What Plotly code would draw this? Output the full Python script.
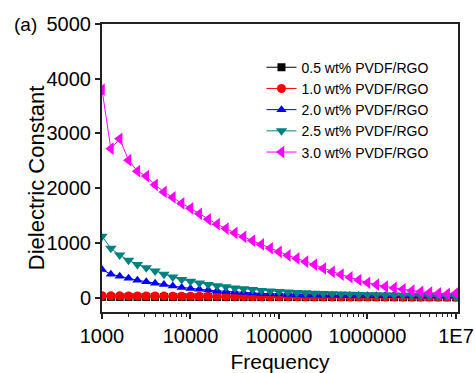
import numpy as np
import plotly.graph_objects as go

# log10 of frequency, 10 points per decade from 1e3 to 1e7
log_freq = [3.0, 3.1, 3.2, 3.3, 3.4, 3.5, 3.6, 3.7, 3.8, 3.9,
            4.0, 4.1, 4.2, 4.3, 4.4, 4.5, 4.6, 4.7, 4.8, 4.9,
            5.0, 5.1, 5.2, 5.3, 5.4, 5.5, 5.6, 5.7, 5.8, 5.9,
            6.0, 6.1, 6.2, 6.3, 6.4, 6.5, 6.6, 6.7, 6.8, 6.9, 7.0]
freq = [10 ** v for v in log_freq]

s05 = [12, 12, 11, 11, 11, 10, 10, 10, 10, 9,
       9, 9, 9, 8, 8, 8, 8, 8, 7, 7,
       7, 7, 7, 6, 6, 6, 6, 6, 5, 5,
       5, 5, 5, 5, 4, 4, 4, 4, 4, 3, 3]
s10 = [32, 31, 30, 29, 28, 27, 27, 26, 25, 24,
       24, 23, 22, 22, 21, 20, 20, 19, 19, 18,
       18, 17, 17, 16, 16, 15, 15, 14, 14, 13,
       13, 13, 12, 12, 11, 11, 11, 10, 10, 10, 9]
s20 = [510, 425, 390, 350, 315, 290, 260, 238, 210, 185,
       165, 150, 135, 122, 110, 100, 90, 82, 75, 68,
       62, 57, 52, 48, 45, 42, 40, 38, 36, 35,
       34, 33, 32, 31, 30, 29, 28, 27, 26, 25, 24]
s25 = [1120, 900, 775, 680, 605, 545, 485, 425, 375, 330,
       295, 265, 240, 215, 195, 175, 160, 145, 130, 120,
       110, 100, 92, 85, 78, 72, 67, 62, 58, 55,
       52, 50, 47, 45, 42, 40, 36, 32, 28, 22, 15]
s30 = [3800, 2720, 2900, 2510, 2310, 2220, 2060, 1930, 1830, 1720,
       1630, 1530, 1430, 1340, 1260, 1180, 1110, 1040, 970, 900,
       835, 770, 715, 655, 600, 530, 470, 420, 370, 320,
       270, 235, 200, 175, 150, 125, 105, 90, 75, 65, 80]

names = ["0.5 wt% PVDF/RGO", "1.0 wt% PVDF/RGO", "2.0 wt% PVDF/RGO",
         "2.5 wt% PVDF/RGO", "3.0 wt% PVDF/RGO"]
series = [s05, s10, s20, s25, s30]
colors = ["#000000", "#FF0000", "#0000FF", "#008080", "#FF00FF"]
symbols = ["square", "circle", "triangle-up", "triangle-down", "triangle-left"]
sizes = [8, 9, 9, 10, 11]

x_tickvals = [1e3, 1e4, 1e5, 1e6, 1e7]
x_ticktext = ["1000", "10000", "100000", "1000000", "1E7"]
y_tickvals = [0, 1000, 2000, 3000, 4000, 5000]

FONT = "Liberation Sans, Arial, sans-serif"

fig = go.Figure()
for name, ys, c, sym, sz in zip(names, series, colors, symbols, sizes):
    fig.add_trace(go.Scatter(
        x=freq, y=ys, name=name, mode="lines+markers",
        line=dict(color=c, width=1),
        marker=dict(color=c, symbol=sym, size=sz, line=dict(width=0)),
    ))

fig.update_layout(
    width=475, height=373,
    margin=dict(l=102, r=17, t=24, b=61),
    paper_bgcolor="white", plot_bgcolor="white",
    font=dict(family=FONT, color="black", size=20),
    showlegend=True,
    legend=dict(
        x=0.448, y=0.904, xanchor="left", yanchor="top",
        bgcolor="rgba(0,0,0,0)", borderwidth=0,
        font=dict(size=14, family=FONT),
        tracegroupgap=0, itemwidth=30,
    ),
    xaxis=dict(
        type="log", range=[3, 7.023], automargin=False,
        tickvals=x_tickvals, ticktext=x_ticktext,
        ticks="outside", ticklen=5, tickwidth=1.5, tickcolor="#222",
        minor=dict(ticks="outside", ticklen=3, tickwidth=1, tickcolor="#222", dtick="D1"),
        showline=True, linecolor="#222", linewidth=2, mirror=True,
        showgrid=False, zeroline=False,
        title=dict(text="Frequency", font=dict(size=21)),
        tickfont=dict(size=20),
    ),
    yaxis=dict(
        range=[-265, 5000], automargin=False,
        tickvals=y_tickvals,
        ticks="outside", ticklen=5, tickwidth=1.5, tickcolor="#222",
        showline=True, linecolor="#222", linewidth=2, mirror=True,
        showgrid=False, zeroline=False,
        tickfont=dict(size=20),
    ),
    annotations=[
        dict(text="(a)", xref="paper", yref="paper", x=-0.253, y=1.0,
             xanchor="left", yanchor="middle", showarrow=False,
             font=dict(size=19, family=FONT)),
        dict(text="Dielectric Constant", xref="paper", yref="paper",
             x=-0.185, y=0.465, xanchor="center", yanchor="middle",
             textangle=-90, showarrow=False,
             font=dict(size=22, family=FONT)),
    ],
)

fig.write_html("out.html")
